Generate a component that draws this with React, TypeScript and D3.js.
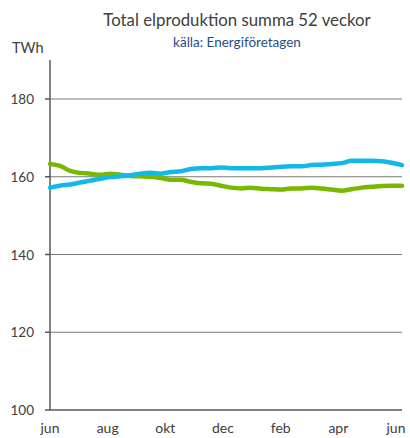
import React from "react";
import { scaleLinear, line, curveMonotoneX } from "d3";

// values, roughly every 10 days from jun to jun
const green = [
  163.3, 162.8, 161.5, 161, 160.8, 160.5, 160.8, 160.5, 160.2, 160.1, 160, 159.7,
  159.2, 159.2, 158.7, 158.3, 158.2, 157.7, 157.2, 157, 157.2, 156.9, 156.8, 156.7,
  157, 157, 157.2, 157, 156.7, 156.4, 156.8, 157.2, 157.4, 157.6, 157.7, 157.7,
];
const blue = [
  157.2, 157.7, 158, 158.5, 159, 159.5, 159.9, 160.1, 160.4, 160.8, 161, 160.8,
  161.2, 161.4, 162, 162.2, 162.2, 162.4, 162.2, 162.2, 162.2, 162.2, 162.4, 162.6,
  162.7, 162.7, 163, 163.1, 163.3, 163.5, 164.1, 164.1, 164.1, 164, 163.6, 163,
];
const monthLabels = ["jun", "aug", "okt", "dec", "feb", "apr", "jun"];
const yTicks = [100, 120, 140, 160, 180];

const W = 410;
const H = 438;
const left = 50;
const right = 402;
const top = 60;
const bottom = 410;

export default function App() {
  const x = scaleLinear().domain([0, green.length - 1]).range([left, right]);
  const xm = scaleLinear().domain([0, monthLabels.length - 1]).range([left, 396]);
  const y = scaleLinear().domain([100, 180]).range([bottom, 99]);

  const path = line<number>()
    .x((_, i) => x(i))
    .y((d) => y(d))
    .curve(curveMonotoneX);

  const font = "Lato, 'Open Sans', sans-serif";

  return (
    <svg
      width={W}
      height={H}
      style={{ position: "absolute", left: 0, top: 0, background: "#fff" }}
      fontFamily={font}
    >
      <text x={237} y={26} textAnchor="middle" fontSize={16.8} fill="#404040">
        Total elproduktion summa 52 veckor
      </text>
      <text x={237} y={47} textAnchor="middle" fontSize={13.5} fill="#1f4e8c">
        källa: Energiföretagen
      </text>
      <text x={12} y={53} fontSize={14.5} fill="#404040">
        TWh
      </text>

      {yTicks.map((t) => (
        <g key={t}>
          {t > 100 && (
            <line x1={left} x2={right} y1={y(t)} y2={y(t)} stroke="#7a7a7a" strokeWidth={1} />
          )}
          <line x1={left - 5} x2={left} y1={y(t)} y2={y(t)} stroke="#595959" strokeWidth={1.5} />
          <text x={34} y={y(t) + 5} textAnchor="end" fontSize={13.5} fill="#404040">
            {t}
          </text>
        </g>
      ))}

      <line x1={left} x2={left} y1={top} y2={bottom} stroke="#595959" strokeWidth={1.5} />
      <line x1={left} x2={right} y1={bottom} y2={bottom} stroke="#595959" strokeWidth={1.5} />

      {monthLabels.map((m, i) => (
        <text key={i} x={xm(i)} y={433} textAnchor="middle" fontSize={14} fill="#404040">
          {m}
        </text>
      ))}

      <path d={path(green) ?? ""} fill="none" stroke="#7ab800" strokeWidth={4.5} strokeLinecap="round" />
      <path d={path(blue) ?? ""} fill="none" stroke="#12b8e8" strokeWidth={4.5} strokeLinecap="round" />
    </svg>
  );
}
